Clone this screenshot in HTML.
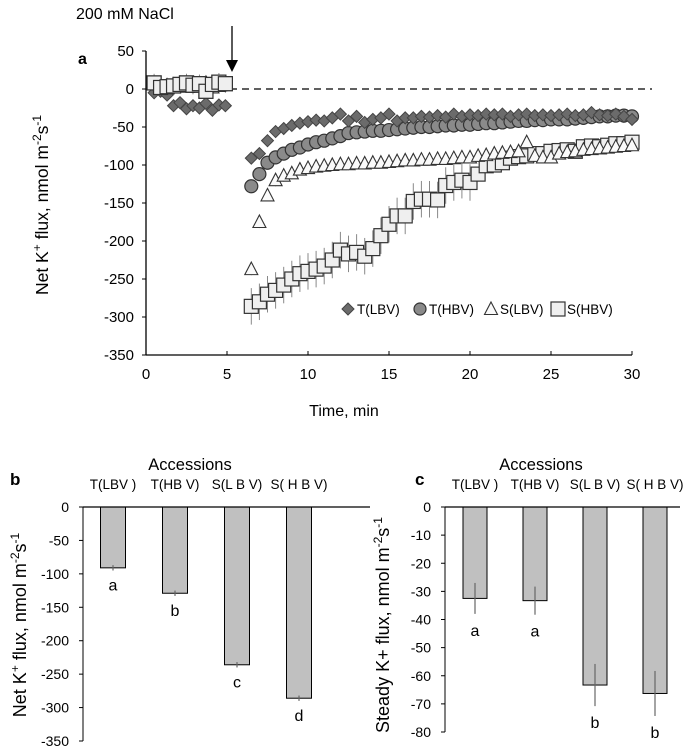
<!DOCTYPE html>
<html><head><meta charset="utf-8"><style>
body{margin:0;background:#fff}
svg{display:block;font-family:"Liberation Sans",sans-serif}
</style></head><body>
<svg id="s" width="685" height="748" viewBox="0 0 685 748">
<g id="top"></g>
<g id="bb"></g>
<g id="bc"></g>
</svg>
<script>
const preTimes=[0.5,0.9,1.3,1.7,2.1,2.5,2.9,3.3,3.7,4.1,4.5,4.9];
const preTL=[-5,-3,-8,-22,-18,-26,-22,-25,-19,-28,-21,-22];
const preTH=[6,2,3,4,5,6,4,6,1,5,7,6];
const preSL=[6,3,4,5,7,3,6,5,8,2,4,7];
const preSH=[8,2,3,4,6,8,5,7,-3,6,9,7];
const postTimes=[6.5,7,7.5,8,8.5,9,9.5,10,10.5,11,11.5,12,12.5,13,13.5,14,14.5,15,15.5,16,16.5,17,17.5,18,18.5,19,19.5,20,20.5,21,21.5,22,22.5,23,23.5,24,24.5,25,25.5,26,26.5,27,27.5,28,28.5,29,29.5,30];
const postTL=[-91,-85,-68,-56,-52,-48,-45,-43,-41,-42,-38,-33,-42,-36,-44,-40,-38,-33,-42,-38,-38,-36,-37,-35,-37,-33,-36,-34,-35,-33,-34,-33,-36,-34,-33,-35,-34,-35,-34,-33,-35,-34,-31,-34,-35,-33,-36,-40];
const postTH=[-128,-112,-97,-90,-85,-80,-77,-73,-70,-68,-65,-62,-58,-57,-56,-55,-55,-54,-53,-52,-51,-50,-50,-49,-48,-48,-47,-47,-46,-45,-45,-44,-43,-42,-42,-41,-41,-40,-40,-40,-39,-38,-37,-36,-36,-35,-35,-36];
const postSL=[-237,-175,-140,-120,-114,-111,-106,-104,-102,-101,-100,-99,-99,-98,-98,-97,-97,-96,-95,-94,-94,-93,-93,-92,-92,-91,-90,-90,-88,-87,-85,-84,-83,-82,-70,-88,-90,-90,-85,-83,-82,-80,-79,-78,-77,-76,-75,-74];
const postSH=[-286,-280,-270,-265,-258,-250,-243,-240,-237,-233,-225,-212,-217,-215,-220,-210,-193,-178,-167,-167,-148,-145,-145,-146,-127,-123,-120,-123,-112,-101,-100,-97,-91,-89,-88,-85,-85,-82,-81,-80,-82,-76,-75,-76,-74,-72,-72,-70];
const topYTicks=[50,0,-50,-100,-150,-200,-250,-300,-350];
const topXTicks=[0,5,10,15,20,25,30];
const barCats=["T(LBV )","T(HB V)","S(L B V)","S( H B V)"];
const barB=[-91,-129,-236,-286];
const errB=[4,4,4,4];
const letB=["a","b","c","d"];
const ticksB=[0,-50,-100,-150,-200,-250,-300,-350];
const barC=[-32.5,-33.3,-63.3,-66.3];
const errC=[5.5,5,7.5,8];
const letC=["a","a","b","b"];
const ticksC=[0,-10,-20,-30,-40,-50,-60,-70,-80];

const NS="http://www.w3.org/2000/svg";
function mk(p,t,a,txt){const e=document.createElementNS(NS,t);for(const k in a)e.setAttribute(k,a[k]);if(txt!==undefined)e.textContent=txt;p.appendChild(e);return e;}

const T=document.getElementById('top');
const X0=146,X1=632,Y50=51,Ym350=355;
const tx=v=>X0+(v/30)*(X1-X0);
const ty=v=>Y50+(50-v)/400*(Ym350-Y50);
let e;
e=mk(T,'line',{x1:X0,y1:Y50,x2:X0,y2:Ym350,stroke:'#000','stroke-width':1.3});

e=mk(T,'line',{x1:X0,y1:Ym350,x2:X1,y2:Ym350,stroke:'#000','stroke-width':1.3});

topYTicks.forEach(v=>{mk(T,'line',{x1:X0-4,x2:X0,y1:ty(v),y2:ty(v),stroke:'#000'});
 e=mk(T,'text',{x:X0-12,y:ty(v)+5,'text-anchor':'end','font-size':15},v);
 });
topXTicks.forEach(v=>{mk(T,'line',{x1:tx(v),x2:tx(v),y1:Ym350,y2:Ym350-4,stroke:'#000'});
 e=mk(T,'text',{x:tx(v),y:Ym350+24,'text-anchor':'middle','font-size':15},v);
 });
e=mk(T,'line',{x1:X0,x2:652,y1:ty(0),y2:ty(0),stroke:'#000','stroke-width':1.3,'stroke-dasharray':'7,5'});

e=mk(T,'text',{x:344,y:416,'text-anchor':'middle','font-size':16},'Time, min');

e=mk(T,'text',{x:0,y:0,'text-anchor':'middle','font-size':17.5,transform:'translate(48,205) rotate(-90)'});
e.innerHTML='Net K<tspan dy="-7" font-size="12">+</tspan><tspan dy="7"> flux, nmol m</tspan><tspan dy="-7" font-size="12">-2</tspan><tspan dy="7">s</tspan><tspan dy="-7" font-size="12">-1</tspan>';

e=mk(T,'text',{x:78,y:64,'font-size':16,'font-weight':'bold'},'a');

e=mk(T,'text',{x:76,y:19,'font-size':16},'200 mM NaCl');

mk(T,'line',{x1:232,x2:232,y1:26,y2:62,stroke:'#000','stroke-width':1.3});
e=mk(T,'polygon',{points:'226,60 238,60 232,72',fill:'#000'});


function marker(g,type,x,y,s){
 if(type==='d')return mk(g,'polygon',{points:`${x},${y-6} ${x+6},${y} ${x},${y+6} ${x-6},${y}`,fill:'#6b6b6b',stroke:'#444','stroke-width':1});
 if(type==='c')return mk(g,'circle',{cx:x,cy:y,r:s||6.5,fill:'#8a8a8a',stroke:'#333','stroke-width':1.2});
 if(type==='t')return mk(g,'polygon',{points:`${x},${y-7} ${x+6.5},${y+5.5} ${x-6.5},${y+5.5}`,fill:'#fafafa',stroke:'#333','stroke-width':1.1});
 return mk(g,'rect',{x:x-7,y:y-7,width:14,height:14,fill:'#efefef',stroke:'#333','stroke-width':1.2});
}
const series=[
 {n:'t-lbv',t:'d',pre:preTL,post:postTL,err:5},
 {n:'t-hbv',t:'c',pre:preTH,post:postTH,err:4},
 {n:'s-lbv',t:'t',pre:preSL,post:postSL,err:8},
 {n:'s-hbv',t:'s',pre:preSH,post:postSH,err:24}];
series.slice().reverse().forEach(sr=>{
 const g=mk(T,'g',{});
 const times=preTimes.concat(postTimes),vals=sr.pre.concat(sr.post);
 times.forEach((t,i)=>{const x=tx(t),y=ty(vals[i]);const er=sr.err*(t>6?1:0.5)*(sr.n==='s-hbv'&&t>20?0.4:1);
  mk(g,'line',{x1:x,x2:x,y1:ty(vals[i]+er),y2:ty(vals[i]-er),stroke:'#888','stroke-width':1});});
 times.forEach((t,i)=>{const m=marker(g,sr.t,tx(t),ty(vals[i]));});
});
const preTop=mk(T,'g',{});
preTimes.forEach((t,i)=>{const m=marker(preTop,'s',tx(t),ty(preSH[i]));});

const lg=mk(T,'g',{});
[['d',348,'T(LBV)'],['c',420,'T(HBV)'],['t',491,'S(LBV)'],['s',558,'S(HBV)']].forEach(a=>{
 marker(lg,a[0],a[1],309,a[0]==='c'?6:undefined);
 const t=mk(lg,'text',{x:a[1]+9,y:314,'font-size':13.5},a[2]);
 });

function barChart(g,cfg){
 const ys=v=>cfg.y0+(v/cfg.min)*(cfg.yb-cfg.y0);
 e=mk(g,'line',{x1:cfg.ax,x2:cfg.ax,y1:cfg.y0,y2:cfg.yb,stroke:'#000'});
 
 cfg.ticks.forEach(v=>{mk(g,'line',{x1:cfg.ax-4,x2:cfg.ax,y1:ys(v),y2:ys(v),stroke:'#000'});
  e=mk(g,'text',{x:cfg.ax-14,y:ys(v)+5,'text-anchor':'end','font-size':14},v);
  });
 cfg.vals.forEach((v,i)=>{const cx=cfg.c0+i*cfg.step;
  e=mk(g,'rect',{x:cx-cfg.w/2,y:cfg.y0,width:cfg.w,height:ys(v)-cfg.y0,fill:'#c0c0c0',stroke:'#000','stroke-width':1});
  
  mk(g,'line',{x1:cx,x2:cx,y1:ys(v+cfg.err[i]),y2:ys(v-cfg.err[i]),stroke:'#666','stroke-width':1.2});
  e=mk(g,'text',{x:cx,y:ys(v-cfg.err[i])+cfg.ld,'text-anchor':'middle','font-size':16},cfg.lets[i]);
  
  e=mk(g,'text',{x:cx,y:489,'text-anchor':'middle','font-size':13.5},barCats[i]);
  });
 e=mk(g,'line',{x1:cfg.ax,x2:cfg.xe,y1:cfg.y0,y2:cfg.y0,stroke:'#000','stroke-width':1.2});
 
 e=mk(g,'text',{x:cfg.tx,y:470,'text-anchor':'middle','font-size':16.5},'Accessions');
 
 e=mk(g,'text',{x:cfg.px,y:485,'font-size':17,'font-weight':'bold'},cfg.pl);
 
 e=mk(g,'text',{x:0,y:0,'text-anchor':'middle','font-size':18,transform:`translate(${cfg.ytx},625) rotate(-90)`});
 e.innerHTML=cfg.yt;
}
barChart(document.getElementById('bb'),{ax:83,xe:370,y0:507,yb:741,min:-350,ticks:ticksB,vals:barB,err:errB,lets:letB,c0:113,step:62,w:25,ld:20,tx:190,px:10,pl:'b',ytx:26,
 yt:'Net K<tspan dy="-7" font-size="12">+</tspan><tspan dy="7"> flux, nmol m</tspan><tspan dy="-7" font-size="12">-2</tspan><tspan dy="7">s</tspan><tspan dy="-7" font-size="12">-1</tspan>'});
barChart(document.getElementById('bc'),{ax:445,xe:680,y0:507,yb:732,min:-80,ticks:ticksC,vals:barC,err:errC,lets:letC,c0:475,step:60,w:24,ld:22,tx:541,px:415,pl:'c',ytx:389,
 yt:'Steady K+ flux, nmol m<tspan dy="-7" font-size="12">-2</tspan><tspan dy="7">s</tspan><tspan dy="-7" font-size="12">-1</tspan>'});
</script>
</body></html>
